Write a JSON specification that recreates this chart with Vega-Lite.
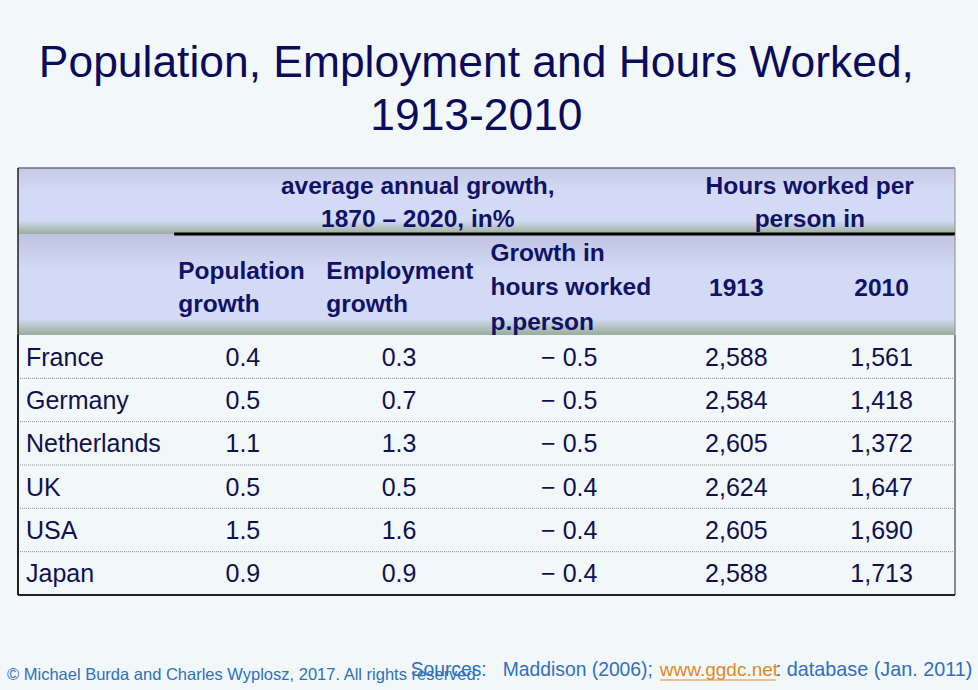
{
  "$schema": "https://vega.github.io/schema/vega-lite/v6.json",
  "background": "#f2f8fa",
  "padding": {"left": 7, "right": 3, "top": 40, "bottom": 0},
  "bounds": "flush",
  "title": {
    "text": ["Population, Employment and Hours Worked,", "1913-2010"],
    "font": "Liberation Sans",
    "fontSize": 44.4,
    "fontWeight": "normal",
    "color": "#0b0b5c",
    "anchor": "middle",
    "lineHeight": 53,
    "offset": 28,
    "dx": -16
  },
  "spacing": 0,
  "config": {"view": {"stroke": null}},
  "vconcat": [
    {
      "width": 937,
      "height": 66,
      "data": {"values": [{"k": 1}]},
      "layer": [
        {
          "mark": {"type": "rect", "fill": {"gradient": "linear", "x1": 0, "y1": 0, "x2": 0, "y2": 1, "stops": [
            {"offset": 0, "color": "#c5c9e4"},
            {"offset": 0.35, "color": "#d2daf6"},
            {"offset": 0.8, "color": "#d2daf6"},
            {"offset": 0.9, "color": "#b7c4c6"},
            {"offset": 1, "color": "#9aae9c"}]}},
          "encoding": {}
        },
        {
          "mark": {"type": "rule", "color": "#6b6f80", "strokeWidth": 1.5},
          "encoding": {"y": {"value": 0}}
        },
        {
          "mark": {"type": "text", "font": "Liberation Sans", "fontSize": 24.5, "fontWeight": "bold", "color": "#111166", "align": "center", "baseline": "middle", "lineBreak": "\n", "lineHeight": 33, "dy": -14},
          "encoding": {
            "x": {"datum": "emp", "type": "nominal", "bandPosition": 0.56, "scale": {"type": "band", "domain": ["country", "pop", "emp", "hrs", "h1913", "h2010"], "paddingInner": 0, "paddingOuter": 0}, "axis": null},
            "text": {"value": "average annual growth,\n1870 – 2020, in%"}
          }
        },
        {
          "mark": {"type": "text", "font": "Liberation Sans", "fontSize": 24.5, "fontWeight": "bold", "color": "#111166", "align": "center", "baseline": "middle", "lineBreak": "\n", "lineHeight": 33, "dy": -14},
          "encoding": {
            "x": {"datum": "h1913", "type": "nominal", "bandPosition": 1.07, "axis": null},
            "text": {"value": "Hours worked per\nperson in"}
          }
        },
        {
          "mark": {"type": "rule", "color": "#222222", "strokeWidth": 1.5},
          "encoding": {"x": {"datum": "country", "type": "nominal", "bandPosition": 0, "axis": null}}
        },
        {
          "mark": {"type": "rule", "color": "#8a8a8a", "strokeWidth": 1},
          "encoding": {"x": {"datum": "h2010", "type": "nominal", "bandPosition": 1, "axis": null}}
        }
      ]
    },
    {
      "width": 937,
      "height": 101,
      "data": {"values": [{"k": 1}]},
      "layer": [
        {
          "mark": {"type": "rect", "fill": {"gradient": "linear", "x1": 0, "y1": 0, "x2": 0, "y2": 1, "stops": [
            {"offset": 0, "color": "#bfc3df"},
            {"offset": 0.35, "color": "#d2daf6"},
            {"offset": 0.84, "color": "#d2daf6"},
            {"offset": 0.92, "color": "#b5c3c4"},
            {"offset": 1, "color": "#99ad9b"}]}},
          "encoding": {}
        },
        {
          "mark": {"type": "text", "font": "Liberation Sans", "fontSize": 24.5, "fontWeight": "bold", "color": "#111166", "align": "left", "baseline": "middle", "lineBreak": "\n", "lineHeight": 33, "dx": 4, "dy": -13},
          "encoding": {
            "x": {"datum": "pop", "type": "nominal", "bandPosition": 0, "scale": {"type": "band", "domain": ["country", "pop", "emp", "hrs", "h1913", "h2010"], "paddingInner": 0, "paddingOuter": 0}, "axis": null},
            "text": {"value": "Population\ngrowth"}
          }
        },
        {
          "mark": {"type": "text", "font": "Liberation Sans", "fontSize": 24.5, "fontWeight": "bold", "color": "#111166", "align": "left", "baseline": "middle", "lineBreak": "\n", "lineHeight": 33, "dx": -4, "dy": -13},
          "encoding": {
            "x": {"datum": "emp", "type": "nominal", "bandPosition": 0, "axis": null},
            "text": {"value": "Employment\ngrowth"}
          }
        },
        {
          "mark": {"type": "text", "font": "Liberation Sans", "fontSize": 24.5, "fontWeight": "bold", "color": "#111166", "align": "left", "baseline": "middle", "lineBreak": "\n", "lineHeight": 34.5, "dx": 4, "dy": -31},
          "encoding": {
            "x": {"datum": "hrs", "type": "nominal", "bandPosition": 0, "axis": null},
            "text": {"value": "Growth in\nhours worked\np.person"}
          }
        },
        {
          "mark": {"type": "text", "font": "Liberation Sans", "fontSize": 24.5, "fontWeight": "bold", "color": "#111166", "align": "center", "baseline": "middle", "dy": 4},
          "encoding": {
            "x": {"datum": "h1913", "type": "nominal", "bandPosition": 0.6, "axis": null},
            "text": {"value": "1913"}
          }
        },
        {
          "mark": {"type": "text", "font": "Liberation Sans", "fontSize": 24.5, "fontWeight": "bold", "color": "#111166", "align": "center", "baseline": "middle", "dy": 4},
          "encoding": {
            "x": {"datum": "h2010", "type": "nominal", "bandPosition": 0.53, "axis": null},
            "text": {"value": "2010"}
          }
        },
        {
          "mark": {"type": "rule", "color": "#000000", "strokeWidth": 3},
          "encoding": {
            "x": {"datum": "pop", "type": "nominal", "bandPosition": 0, "axis": null},
            "x2": {"value": {"expr": "width"}},
            "y": {"value": 0}
          }
        },
        {
          "mark": {"type": "rule", "color": "#222222", "strokeWidth": 1.5},
          "encoding": {"x": {"datum": "country", "type": "nominal", "bandPosition": 0, "axis": null}}
        },
        {
          "mark": {"type": "rule", "color": "#8a8a8a", "strokeWidth": 1},
          "encoding": {"x": {"datum": "h2010", "type": "nominal", "bandPosition": 1, "axis": null}}
        }
      ]
    },
    {
      "width": 937,
      "height": 260,
      "data": {"values": [
        {"country": "France", "pop": 0.4, "emp": 0.3, "hrs": -0.5, "h1913": 2588, "h2010": 1561},
        {"country": "Germany", "pop": 0.5, "emp": 0.7, "hrs": -0.5, "h1913": 2584, "h2010": 1418},
        {"country": "Netherlands", "pop": 1.1, "emp": 1.3, "hrs": -0.5, "h1913": 2605, "h2010": 1372},
        {"country": "UK", "pop": 0.5, "emp": 0.5, "hrs": -0.4, "h1913": 2624, "h2010": 1647},
        {"country": "USA", "pop": 1.5, "emp": 1.6, "hrs": -0.4, "h1913": 2605, "h2010": 1690},
        {"country": "Japan", "pop": 0.9, "emp": 0.9, "hrs": -0.4, "h1913": 2588, "h2010": 1713}
      ]},
      "transform": [{"calculate": "'− ' + format(abs(datum.hrs), '.1f')", "as": "hrsLabel"}],
      "layer": [
        {
          "transform": [{"filter": "datum.country != 'Japan'"}],
          "mark": {"type": "rule", "color": "#8c8c8c", "strokeWidth": 1, "strokeDash": [1, 1]},
          "encoding": {
            "y": {"field": "country", "type": "nominal", "bandPosition": 1, "scale": {"type": "band", "domain": ["France", "Germany", "Netherlands", "UK", "USA", "Japan"], "paddingInner": 0, "paddingOuter": 0}, "axis": null}
          }
        },
        {
          "mark": {"type": "text", "font": "Liberation Sans", "fontSize": 25, "color": "#10104e", "align": "left", "baseline": "middle", "dx": 8, "dy": 1},
          "encoding": {
            "x": {"datum": "country", "type": "nominal", "bandPosition": 0, "scale": {"type": "band", "domain": ["country", "pop", "emp", "hrs", "h1913", "h2010"], "paddingInner": 0, "paddingOuter": 0}, "axis": null},
            "y": {"field": "country", "type": "nominal", "axis": null},
            "text": {"field": "country", "type": "nominal"}
          }
        },
        {
          "mark": {"type": "text", "font": "Liberation Sans", "fontSize": 25, "color": "#10104e", "align": "center", "baseline": "middle", "dy": 1},
          "encoding": {
            "x": {"datum": "pop", "type": "nominal", "bandPosition": 0.44, "axis": null},
            "y": {"field": "country", "type": "nominal", "axis": null},
            "text": {"field": "pop", "type": "quantitative", "format": ".1f"}
          }
        },
        {
          "mark": {"type": "text", "font": "Liberation Sans", "fontSize": 25, "color": "#10104e", "align": "center", "baseline": "middle", "dy": 1},
          "encoding": {
            "x": {"datum": "emp", "type": "nominal", "bandPosition": 0.44, "axis": null},
            "y": {"field": "country", "type": "nominal", "axis": null},
            "text": {"field": "emp", "type": "quantitative", "format": ".1f"}
          }
        },
        {
          "mark": {"type": "text", "font": "Liberation Sans", "fontSize": 25, "color": "#10104e", "align": "center", "baseline": "middle", "dy": 1},
          "encoding": {
            "x": {"datum": "hrs", "type": "nominal", "bandPosition": 0.53, "axis": null},
            "y": {"field": "country", "type": "nominal", "axis": null},
            "text": {"field": "hrsLabel", "type": "nominal"}
          }
        },
        {
          "mark": {"type": "text", "font": "Liberation Sans", "fontSize": 25, "color": "#10104e", "align": "center", "baseline": "middle", "dy": 1},
          "encoding": {
            "x": {"datum": "h1913", "type": "nominal", "bandPosition": 0.6, "axis": null},
            "y": {"field": "country", "type": "nominal", "axis": null},
            "text": {"field": "h1913", "type": "quantitative", "format": ","}
          }
        },
        {
          "mark": {"type": "text", "font": "Liberation Sans", "fontSize": 25, "color": "#10104e", "align": "center", "baseline": "middle", "dy": 1},
          "encoding": {
            "x": {"datum": "h2010", "type": "nominal", "bandPosition": 0.53, "axis": null},
            "y": {"field": "country", "type": "nominal", "axis": null},
            "text": {"field": "h2010", "type": "quantitative", "format": ","}
          }
        },
        {
          "mark": {"type": "rule", "color": "#222222", "strokeWidth": 1.5},
          "encoding": {"x": {"datum": "country", "type": "nominal", "bandPosition": 0, "axis": null}}
        },
        {
          "mark": {"type": "rule", "color": "#8a8a8a", "strokeWidth": 1},
          "encoding": {"x": {"datum": "h2010", "type": "nominal", "bandPosition": 1, "axis": null}}
        },
        {
          "mark": {"type": "rule", "color": "#222222", "strokeWidth": 1.5},
          "encoding": {"y": {"datum": "Japan", "type": "nominal", "bandPosition": 1, "axis": null}}
        }
      ]
    },
    {
      "width": 937,
      "height": 95,
      "data": {"values": [{"who": "© Michael Burda and Charles Wyplosz, 2017. All rights reserved.", "src": "Sources:\u00a0\u00a0 Maddison (2006);", "url": "www.ggdc.net", "db": ":  database (Jan. 2011)"}]},
      "layer": [
        {
          "mark": {"type": "text", "font": "Liberation Sans", "fontSize": 16.5, "color": "#2f6fbf", "align": "left", "baseline": "middle", "dx": -11, "dy": 32},
          "encoding": {
            "x": {"datum": "country", "type": "nominal", "bandPosition": 0, "scale": {"type": "band", "domain": ["country", "pop", "emp", "hrs", "h1913", "h2010"], "paddingInner": 0, "paddingOuter": 0}, "axis": null},
            "text": {"field": "who", "type": "nominal"}
          }
        },
        {
          "mark": {"type": "text", "font": "Liberation Sans", "fontSize": 19.3, "color": "#2f6fbf", "align": "right", "baseline": "middle", "dx": -7, "dy": 27},
          "encoding": {
            "x": {"datum": "h1913", "type": "nominal", "bandPosition": 0.11, "axis": null},
            "text": {"field": "src", "type": "nominal"}
          }
        },
        {
          "mark": {"type": "text", "font": "Liberation Sans", "fontSize": 19, "color": "#e0891f", "align": "left", "baseline": "middle", "dy": 27},
          "encoding": {
            "x": {"datum": "h1913", "type": "nominal", "bandPosition": 0.11, "axis": null},
            "text": {"field": "url", "type": "nominal"}
          }
        },
        {
          "mark": {"type": "text", "font": "Liberation Sans", "fontSize": 19.8, "color": "#2f6fbf", "align": "left", "baseline": "middle", "dx": -23, "dy": 27},
          "encoding": {
            "x": {"datum": "h2010", "type": "nominal", "bandPosition": 0, "axis": null},
            "text": {"field": "db", "type": "nominal"}
          }
        },
        {
          "mark": {"type": "rule", "color": "#e0891f", "strokeWidth": 1.2, "x2Offset": -101, "yOffset": 85},
          "encoding": {
            "x": {"datum": "h1913", "type": "nominal", "bandPosition": 0.11, "axis": null},
            "x2": {"datum": "h2010"},
            "y": {"value": 0}
          }
        }
      ]
    }
  ]
}
